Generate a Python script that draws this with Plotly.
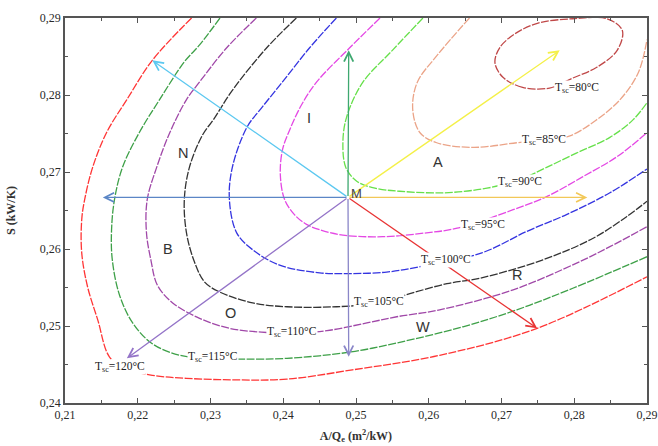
import plotly.graph_objects as go

# ---------------- data ----------------
temps = [80, 85, 90, 95, 100, 105, 110, 115, 120]

x80 = [0.2766, 0.2729, 0.2702, 0.2691, 0.2698, 0.2721, 0.2753, 0.2798, 0.2845, 0.2866, 0.2859, 0.2831, 0.2798, 0.2766]
y80 = [0.2809, 0.2810, 0.2823, 0.2842, 0.2862, 0.2881, 0.2894, 0.2899, 0.2899, 0.2884, 0.2858, 0.2836, 0.2822, 0.2809]

x85 = [0.2656, 0.2612, 0.2584, 0.2578, 0.2588, 0.2611, 0.2661, 0.2721, 0.2758, 0.2794, 0.2831, 0.2863, 0.2888, 0.2900]
y85 = [0.2900, 0.2852, 0.2816, 0.2781, 0.2751, 0.2738, 0.2732, 0.2738, 0.2742, 0.2747, 0.2768, 0.2794, 0.2829, 0.2872]

x90 = [0.2592, 0.2550, 0.2509, 0.2487, 0.2482, 0.2486, 0.2501, 0.2526, 0.2560, 0.2622, 0.2680, 0.2725, 0.2762, 0.2804, 0.2849, 0.2881, 0.2900]
y90 = [0.2900, 0.2858, 0.2816, 0.2771, 0.2738, 0.2706, 0.2688, 0.2679, 0.2675, 0.2673, 0.2679, 0.2690, 0.2706, 0.2725, 0.2745, 0.2768, 0.2790]

x95 = [0.2533, 0.2491, 0.2446, 0.2425, 0.2409, 0.2399, 0.2396, 0.2402, 0.2416, 0.2432, 0.2450, 0.2482, 0.2537, 0.2597, 0.2639, 0.2716, 0.2762, 0.2812, 0.2859, 0.2900]
y95 = [0.2900, 0.2861, 0.2817, 0.2787, 0.2755, 0.2729, 0.2696, 0.2664, 0.2644, 0.2632, 0.2625, 0.2618, 0.2616, 0.2621, 0.2627, 0.2651, 0.2668, 0.2694, 0.2720, 0.2751]

x100 = [0.2473, 0.2436, 0.2399, 0.2370, 0.2350, 0.2330, 0.2326, 0.2336, 0.2358, 0.2395, 0.2450, 0.2487, 0.2542, 0.2588, 0.2673, 0.2735, 0.2790, 0.2849, 0.2900]
y100 = [0.2900, 0.2861, 0.2817, 0.2783, 0.2758, 0.2706, 0.2664, 0.2621, 0.2599, 0.2579, 0.2569, 0.2568, 0.2570, 0.2577, 0.2595, 0.2623, 0.2645, 0.2673, 0.2704]

x105 = [0.2418, 0.2377, 0.2330, 0.2304, 0.2289, 0.2271, 0.2264, 0.2267, 0.2278, 0.2292, 0.2313, 0.2358, 0.2405, 0.2473, 0.2531, 0.2574, 0.2625, 0.2670, 0.2757, 0.2826, 0.2872, 0.2900]
y105 = [0.2900, 0.2861, 0.2806, 0.2768, 0.2748, 0.2706, 0.2664, 0.2621, 0.2583, 0.2557, 0.2544, 0.2530, 0.2525, 0.2525, 0.2530, 0.2542, 0.2555, 0.2562, 0.2586, 0.2614, 0.2642, 0.2662]

x110 = [0.2363, 0.2322, 0.2285, 0.2267, 0.2244, 0.2226, 0.2213, 0.2212, 0.2218, 0.2227, 0.2248, 0.2285, 0.2326, 0.2370, 0.2412, 0.2460, 0.2515, 0.2556, 0.2615, 0.2716, 0.2804, 0.2849, 0.2900]
y110 = [0.2900, 0.2861, 0.2817, 0.2794, 0.2751, 0.2706, 0.2664, 0.2621, 0.2586, 0.2553, 0.2530, 0.2510, 0.2497, 0.2492, 0.2491, 0.2494, 0.2504, 0.2512, 0.2521, 0.2547, 0.2582, 0.2603, 0.2629]

x115 = [0.2313, 0.2285, 0.2264, 0.2230, 0.2202, 0.2179, 0.2168, 0.2164, 0.2165, 0.2175, 0.2193, 0.2220, 0.2258, 0.2303, 0.2344, 0.2405, 0.2491, 0.2556, 0.2647, 0.2721, 0.2798, 0.2900]
y115 = [0.2900, 0.2865, 0.2843, 0.2794, 0.2751, 0.2706, 0.2664, 0.2625, 0.2586, 0.2540, 0.2504, 0.2477, 0.2462, 0.2458, 0.2457, 0.2458, 0.2466, 0.2478, 0.2499, 0.2521, 0.2549, 0.2590]

x120 = [0.2274, 0.2220, 0.2185, 0.2157, 0.2138, 0.2127, 0.2123, 0.2123, 0.2131, 0.2145, 0.2161, 0.2182, 0.2220, 0.2267, 0.2336, 0.2405, 0.2495, 0.2615, 0.2749, 0.2900]
y120 = [0.2900, 0.2845, 0.2794, 0.2751, 0.2706, 0.2664, 0.2638, 0.2595, 0.2551, 0.2508, 0.2460, 0.2445, 0.2436, 0.2432, 0.2430, 0.2431, 0.2443, 0.2462, 0.2497, 0.2564]

curve_x = [x80, x85, x90, x95, x100, x105, x110, x115, x120]
curve_y = [y80, y85, y90, y95, y100, y105, y110, y115, y120]

# isotherm label positions
label_x = [0.2804, 0.2758, 0.2725, 0.2674, 0.2624, 0.2531, 0.2412, 0.2303, 0.2176]
label_y = [0.2809, 0.2742, 0.2687, 0.2631, 0.2586, 0.2531, 0.2492, 0.2460, 0.2447]

# region letters
region_text = ["N", "I", "A", "B", "O", "W", "R"]
region_x = [0.2262, 0.2436, 0.2613, 0.2242, 0.2328, 0.2592, 0.2721]
region_y = [0.2725, 0.2770, 0.2713, 0.2600, 0.2517, 0.2499, 0.2566]

# point M and the arrows leaving it
m_x, m_y = 0.2489, 0.2667
arrow_tip_x = [0.2220, 0.2152, 0.2490, 0.2490, 0.2780, 0.2818, 0.2749, 0.2185]
arrow_tip_y = [0.2845, 0.2667, 0.2858, 0.2460, 0.2858, 0.2667, 0.2497, 0.2458]

# ---------------- styles ----------------
curve_colors = ["#c04848", "#eba488", "#66e04a", "#e448e4", "#3434e0",
                "#333333", "#a048a8", "#3ea048", "#ff3535"]
arrow_colors = ["#5cc8f0", "#5b86c6", "#3ea870", "#8a86c8", "#f4f048",
                "#f2c858", "#e83434", "#9474c8"]

fig = go.Figure()

for cx, cy, col in zip(curve_x, curve_y, curve_colors):
    fig.add_trace(go.Scatter(
        x=cx, y=cy, mode="lines",
        line=dict(color=col, width=1.3, dash="8px,1.5px", shape="spline", smoothing=1.0),
        hoverinfo="skip", showlegend=False, cliponaxis=True))

annotations = []
for tx, ty, col in zip(arrow_tip_x, arrow_tip_y, arrow_colors):
    annotations.append(dict(
        x=tx, y=ty, ax=m_x, ay=m_y, xref="x", yref="y", axref="x", ayref="y",
        text="", showarrow=True, arrowhead=5, arrowsize=1.4, arrowwidth=1.3,
        arrowcolor=col))

for t, lx, ly in zip(temps, label_x, label_y):
    annotations.append(dict(
        x=lx, y=ly, xref="x", yref="y", showarrow=False,
        text="T<sub>sc</sub>=%d°C" % t, bgcolor="white", borderpad=0,
        font=dict(family="Liberation Serif", size=11.5, color="#222222")))

for txt, rx, ry in zip(region_text, region_x, region_y):
    annotations.append(dict(
        x=rx, y=ry, xref="x", yref="y", showarrow=False, text=txt,
        font=dict(family="Liberation Sans", size=14.5, color="#333333")))

annotations.append(dict(
    x=m_x, y=m_y, xref="x", yref="y", showarrow=False, text="M",
    xanchor="left", yanchor="bottom", xshift=1, yshift=-6,
    font=dict(family="Liberation Sans", size=13, color="#444444")))

fig.update_layout(
    width=658, height=446,
    margin=dict(l=65, r=11, t=18, b=43, autoexpand=False),
    paper_bgcolor="white", plot_bgcolor="white",
    separators=",.",
    annotations=annotations,
    font=dict(family="Liberation Serif", size=12, color="#333333"),
)

axis_common = dict(
    showgrid=False, zeroline=False, showline=True, linecolor="#555555", linewidth=1.5,
    mirror="ticks", ticks="inside", ticklen=5, tickwidth=1.2, tickcolor="#555555",
    tickformat=".2f", automargin=False,
    tickfont=dict(family="Liberation Serif", size=12, color="#2a2a2a"),
    minor=dict(ticks="inside", ticklen=3, tickcolor="#555555", showgrid=False),
)

fig.update_xaxes(
    range=[0.21, 0.29], dtick=0.01, tick0=0.21, **axis_common,
    title=dict(text="<b>A/Q<sub>e</sub> (m<sup>2</sup>/kW)</b>", standoff=10,
               font=dict(family="Liberation Serif", size=12, color="#333333")))
fig.update_yaxes(
    range=[0.24, 0.29], dtick=0.01, tick0=0.24, **axis_common,
    title=dict(text="<b>S (kW/K)</b>", standoff=22,
               font=dict(family="Liberation Serif", size=12, color="#333333")))
fig.update_xaxes(minor_dtick=0.005)
fig.update_yaxes(minor_dtick=0.005)

fig.write_html("out.html", config={"displayModeBar": False},
               post_script="document.body.style.margin='0';")
